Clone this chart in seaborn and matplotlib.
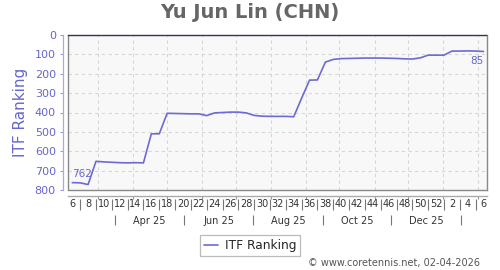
import numpy as np
import pandas as pd
import matplotlib
matplotlib.use("Agg")
import matplotlib.pyplot as plt
import seaborn as sns

# ---------------- data ----------------
title = "Yu Jun Lin (CHN)"
series_name = "ITF Ranking"
first_week_monday = "2025-02-03"   # ISO week 6 of 2025
ranking = [762, 763, 772, 652, 655, 657, 659, 660, 659, 660,
           510, 510, 404, 405, 406, 407, 407, 416, 402, 400,
           398, 398, 402, 415, 419, 420, 420, 420, 422, 326,
           233, 232, 140, 126, 122, 121, 120, 119, 119, 119,
           120, 121, 123, 124, 118, 104, 104, 104, 83, 83,
           82, 83, 85]
week_labels = ["6", "8", "10", "12", "14", "16", "18", "20", "22", "24",
               "26", "28", "30", "32", "34", "36", "38", "40", "42", "44",
               "46", "48", "50", "52", "2", "4", "6"]
month_labels = ["Apr 25", "Jun 25", "Aug 25", "Oct 25", "Dec 25"]
y_ticks = [0, 100, 200, 300, 400, 500, 600, 700, 800]
watermark = "\u00a9 www.coretennis.net, 02-04-2026"

# ---------------- derived positions (days since first monday) ----------------
base = pd.Timestamp(first_week_monday)
n = len(ranking)
x_days = 7 * np.arange(n) + 3.5
df = pd.DataFrame({"day": x_days, "rank": ranking})

starts = pd.date_range("2025-03-01", "2026-03-01", freq="MS")
start_days = np.array([(s - base).days for s in starts], dtype=float)
month_starts = start_days[:-1]
mids = (start_days[:-1] + start_days[1:]) / 2
month_seps = mids[0::2]
month_label_pos = mids[1:10:2]
week_label_pos = 3.5 + 14 * np.arange(len(week_labels))
week_sep_pos = 3.5 + 7 + 14 * np.arange(len(week_labels) - 1)

blue = "#6666cc"
line_color = "#6b6bd2"
grey = "#999999"

sns.set_style("white")
plt.rcParams["font.family"] = ["DejaVu Sans"]

fig = plt.figure(figsize=(5, 2.7), dpi=100)
W, H = 500, 270
L, R, T, B = 68.3, 487.5, 35, 190
ax = fig.add_axes([L / W, 1 - B / H, (R - L) / W, (B - T) / H])
ax.set_facecolor("#f8f8f8")

sns.lineplot(data=df, x="day", y="rank", ax=ax, color=line_color, lw=1.2,
             label=series_name, legend=False)

ax.set_xlim(0, 371)
ax.set_ylim(800, 0)
ax.set_yticks(y_ticks)
ax.set_xticks(month_starts)
ax.set_xticks(week_label_pos, week_labels, minor=True)
ax.tick_params(axis="x", which="major", labelbottom=False, length=2.5, width=0.8,
               color=grey, direction="out", bottom=True)
ax.tick_params(axis="x", which="minor", length=0, pad=2.2, labelsize=7,
               labelcolor="#333333", bottom=True)
ax.tick_params(axis="y", which="major", length=2.5, width=0.8, color="#9999dd",
               direction="out", left=True, labelsize=8, labelcolor=blue, pad=3)

ax.grid(True, which="major", ls=(0, (3, 3)), color="#d6d6d6", lw=0.8)
ax.set_axisbelow(True)
ax.set_xlabel("")
ax.set_ylabel(series_name, color=blue, fontsize=11, va="center")
ax.yaxis.set_label_coords(-0.113, 0.5)

# spines: offset axes + plot border
ax.spines["left"].set_position(("outward", 3.5))
ax.spines["left"].set_color("#aaaadd")
ax.spines["left"].set_linewidth(0.9)
ax.spines["bottom"].set_position(("outward", 4))
ax.spines["bottom"].set_color("#aaaaaa")
ax.spines["bottom"].set_linewidth(1.0)
ax.spines["right"].set_color("#888888")
ax.spines["right"].set_linewidth(1.0)
ax.spines["top"].set_color("#333355")
ax.spines["top"].set_linestyle((0, (1, 1)))
ax.spines["top"].set_linewidth(1.0)
ax.plot([0, 0], [0, 1], transform=ax.transAxes, color="#888888", lw=1.0, clip_on=False)
ax.plot([0, 1], [0, 0], transform=ax.transAxes, color="#888888", lw=1.0, clip_on=False)

# week separators
sec_w = ax.secondary_xaxis(-(199 - B) / (B - T))
for s in sec_w.spines.values():
    s.set_visible(False)
sec_w.set_xticks(week_sep_pos, [""] * len(week_sep_pos))
sec_w.tick_params(length=8, width=0.8, color="#777777", direction="out")

# month row
sec_m = ax.secondary_xaxis(-(215 - B) / (B - T))
for s in sec_m.spines.values():
    s.set_visible(False)
sec_m.set_xticks(month_seps, [""] * len(month_seps))
sec_m.set_xticks(month_label_pos, month_labels, minor=True)
sec_m.tick_params(which="major", length=7.5, width=0.8, color="#777777", direction="out")
sec_m.tick_params(which="minor", length=0, pad=0.8, labelsize=7, labelcolor="#333333")

# end labels
ax.annotate(str(ranking[0]), xy=(x_days[0], ranking[0]), xytext=(0, 2.5),
            textcoords="offset points", ha="left", va="bottom", fontsize=7.5, color=blue)
ax.annotate(str(ranking[-1]), xy=(x_days[-1], ranking[-1]), xytext=(0, -3.5),
            textcoords="offset points", ha="right", va="top", fontsize=7.5, color=blue)

fig.text(0.5, 1 - 13 / H, title, ha="center", va="center", fontsize=14,
         fontweight="bold", color="#666666")

handles, labels = ax.get_legend_handles_labels()
leg = fig.legend(handles, labels, loc="center", bbox_to_anchor=(0.5, 1 - 245.5 / H),
                 fontsize=8.7, frameon=True, fancybox=False, edgecolor="#aaaaaa",
                 handlelength=1.2, handletextpad=0.5, borderpad=0.35, borderaxespad=0)
leg.get_frame().set_linewidth(0.9)

fig.text(480 / W, 1 - 263 / H, watermark, ha="right", va="center", fontsize=7,
         color="#555555")

fig.savefig("out.png", dpi=100)
